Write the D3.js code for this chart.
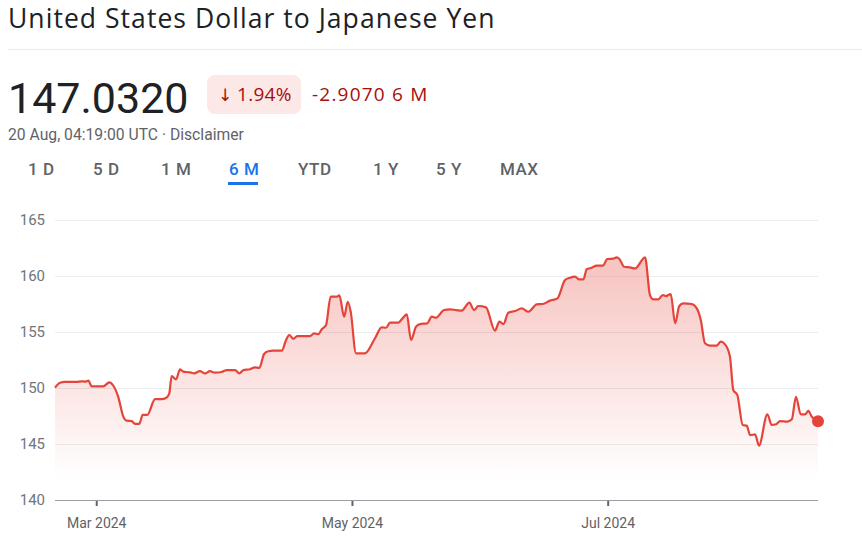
<!DOCTYPE html>
<html>
<head>
<meta charset="utf-8">
<script src="https://cdn.jsdelivr.net/npm/d3@7"></script>
<style>
  body { margin: 0; background: #fff; }
  svg { display: block; font-family: Roboto, "Noto Sans", sans-serif; }
</style>
</head>
<body>
<div id="chart"></div>
<script>
// USD/JPY, 6 month view
var dates = [
  "2024-02-20 04:00", "2024-02-21 09:00", "2024-02-22 13:00", "2024-02-25 08:00", "2024-02-26 13:00",
  "2024-02-27 08:00", "2024-02-28 03:00", "2024-02-28 22:00", "2024-03-02 16:00", "2024-03-04 03:00",
  "2024-03-05 02:00", "2024-03-06 06:00", "2024-03-07 11:00", "2024-03-08 06:00", "2024-03-09 11:00",
  "2024-03-10 06:00", "2024-03-11 07:00", "2024-03-12 02:00", "2024-03-13 04:00", "2024-03-15 01:00",
  "2024-03-16 15:00", "2024-03-17 15:00", "2024-03-18 10:00", "2024-03-19 00:00", "2024-03-20 01:00",
  "2024-03-21 00:00", "2024-03-21 18:00", "2024-03-23 09:00", "2024-03-24 08:00", "2024-03-25 18:00",
  "2024-03-26 23:00", "2024-03-28 03:00", "2024-03-29 08:00", "2024-03-30 22:00", "2024-04-01 03:00",
  "2024-04-03 03:00", "2024-04-04 03:00", "2024-04-05 02:00", "2024-04-06 16:00", "2024-04-07 21:00",
  "2024-04-08 22:00", "2024-04-10 01:00", "2024-04-11 01:00", "2024-04-12 06:00", "2024-04-14 06:00",
  "2024-04-15 07:00", "2024-04-16 01:00", "2024-04-17 00:00", "2024-04-17 23:00", "2024-04-21 00:00",
  "2024-04-21 23:00", "2024-04-22 23:00", "2024-04-23 19:00", "2024-04-24 20:00", "2024-04-25 22:00",
  "2024-04-27 09:00", "2024-04-28 00:00", "2024-04-29 03:00", "2024-04-30 00:00", "2024-04-30 17:00",
  "2024-05-01 23:00", "2024-05-04 03:00", "2024-05-06 12:00", "2024-05-08 02:00", "2024-05-09 03:00",
  "2024-05-10 02:00", "2024-05-12 01:00", "2024-05-12 21:00", "2024-05-14 02:00", "2024-05-15 02:00",
  "2024-05-16 07:00", "2024-05-17 06:00", "2024-05-18 23:00", "2024-05-20 01:00", "2024-05-21 01:00",
  "2024-05-22 23:00", "2024-05-24 09:00", "2024-05-25 20:00", "2024-05-27 04:00", "2024-05-29 00:00",
  "2024-05-30 03:00", "2024-05-31 03:00", "2024-06-01 23:00", "2024-06-04 03:00", "2024-06-05 04:00",
  "2024-06-06 03:00", "2024-06-07 07:00", "2024-06-08 22:00", "2024-06-10 12:00", "2024-06-12 02:00",
  "2024-06-14 02:00", "2024-06-15 12:00", "2024-06-17 06:00", "2024-06-19 00:00", "2024-06-20 20:00",
  "2024-06-22 00:00", "2024-06-23 05:00", "2024-06-24 04:00", "2024-06-25 05:00", "2024-06-26 00:00",
  "2024-06-27 05:00", "2024-06-28 09:00", "2024-06-29 20:00", "2024-06-30 22:00", "2024-07-02 08:00",
  "2024-07-03 04:00", "2024-07-03 19:00", "2024-07-04 22:00", "2024-07-06 08:00", "2024-07-07 13:00",
  "2024-07-09 22:00", "2024-07-11 02:00", "2024-07-11 21:00", "2024-07-13 02:00", "2024-07-14 03:00",
  "2024-07-14 22:00", "2024-07-16 01:00", "2024-07-17 02:00", "2024-07-18 02:00", "2024-07-19 01:00",
  "2024-07-21 01:00", "2024-07-22 06:00", "2024-07-23 05:00", "2024-07-24 05:00", "2024-07-25 10:00",
  "2024-07-27 00:00", "2024-07-27 23:00", "2024-07-29 00:00", "2024-07-30 04:00", "2024-07-30 23:00",
  "2024-07-31 22:00", "2024-08-02 05:00", "2024-08-03 04:00", "2024-08-03 23:00", "2024-08-05 04:00",
  "2024-08-06 02:00", "2024-08-08 02:00", "2024-08-09 03:00", "2024-08-10 04:00", "2024-08-11 03:00",
  "2024-08-12 20:00", "2024-08-13 22:00", "2024-08-14 22:00", "2024-08-16 01:00", "2024-08-17 02:00",
  "2024-08-17 21:00", "2024-08-18 16:00", "2024-08-20 04:00"
];
var rates = [
  150.03, 150.47, 150.54, 150.54, 150.60, 150.57, 150.65, 150.15, 150.15, 150.50,
  150.20, 149.20, 147.44, 147.08, 147.05, 146.80, 146.80, 147.60, 147.60, 149.00,
  149.00, 149.10, 149.50, 151.07, 150.77, 151.67, 151.46, 151.40, 151.30, 151.50,
  151.30, 151.50, 151.37, 151.43, 151.60, 151.60, 151.30, 151.60, 151.67, 151.85,
  151.80, 153.04, 153.28, 153.33, 153.33, 154.29, 154.73, 154.38, 154.64, 154.64,
  154.88, 154.80, 155.24, 155.63, 158.15, 158.15, 158.27, 156.37, 157.70, 156.80,
  153.10, 153.10, 154.44, 155.42, 155.38, 155.83, 155.83, 156.13, 156.58, 154.29,
  155.48, 155.71, 155.77, 156.37, 156.28, 156.96, 157.02, 156.96, 156.90, 157.62,
  156.96, 157.32, 157.20, 155.12, 155.92, 155.71, 156.72, 156.87, 157.11, 156.81,
  157.47, 157.50, 157.80, 158.00, 159.64, 159.85, 159.94, 159.70, 159.70, 160.60,
  160.74, 160.92, 160.92, 161.52, 161.55, 161.67, 161.52, 160.83, 160.77, 160.68,
  161.67, 158.30, 157.92, 157.92, 158.30, 158.21, 158.39, 155.77, 157.32, 157.56,
  157.50, 157.11, 156.07, 153.99, 153.78, 153.78, 154.14, 153.90, 152.80, 149.82,
  149.38, 146.70, 146.64, 145.80, 145.86, 144.85, 147.65, 146.70, 146.76, 147.05,
  146.99, 147.20, 149.22, 147.65, 147.65, 147.95, 147.44, 147.03
];
var yTicks = [140, 145, 150, 155, 160, 165];
var xTicks = ["2024-03-01", "2024-05-01", "2024-07-01"];
var tabs = ["1 D", "5 D", "1 M", "6 M", "YTD", "1 Y", "5 Y", "MAX"];
var tabX = [28, 93, 161, 229, 298, 373, 436, 500];
var activeTab = "6 M";

var width = 862, height = 550;
var red = "#e5443a";
var headFont = "'Open Sans', Roboto, sans-serif";

var svg = d3.select("#chart").append("svg")
    .attr("width", width)
    .attr("height", height);

// Header
svg.append("text")
    .attr("x", 8).attr("y", 28)
    .attr("font-size", 26.5)
    .attr("font-family", headFont)
    .attr("letter-spacing", 1.05)
    .attr("fill", "#202124")
    .text("United States Dollar to Japanese Yen");

svg.append("line")
    .attr("x1", 8).attr("x2", width)
    .attr("y1", 49.5).attr("y2", 49.5)
    .attr("stroke", "#e8eaed");

svg.append("text")
    .attr("x", 8).attr("y", 113)
    .attr("font-size", 43)
    .attr("fill", "#202124")
    .text("147.0320");

svg.append("rect")
    .attr("x", 207).attr("y", 75)
    .attr("width", 94).attr("height", 39)
    .attr("rx", 8)
    .attr("fill", "#fce8e6");

svg.append("text")
    .attr("x", 218).attr("y", 101)
    .attr("font-size", 17)
    .attr("font-family", "'DejaVu Sans', sans-serif")
    .attr("fill", "#a50e0e")
    .text("\u2193");

svg.append("text")
    .attr("x", 237).attr("y", 101)
    .attr("font-size", 19)
    .attr("font-family", headFont)
    .attr("letter-spacing", 0.3)
    .attr("fill", "#a50e0e")
    .text("1.94%");

svg.append("text")
    .attr("x", 312).attr("y", 101)
    .attr("font-size", 19)
    .attr("font-family", headFont)
    .attr("letter-spacing", 1.2)
    .attr("fill", "#a50e0e")
    .text("-2.9070 6 M");

svg.append("text")
    .attr("x", 8).attr("y", 140)
    .attr("font-size", 15.7)
    .attr("fill", "#5f6368")
    .text("20 Aug, 04:19:00 UTC \u00b7 Disclaimer");

// Range tabs
svg.selectAll(".tab")
    .data(tabs)
    .enter().append("text")
    .attr("class", "tab")
    .attr("x", function (d, i) { return tabX[i]; })
    .attr("y", 175)
    .attr("font-size", 17)
    .attr("font-weight", 500)
    .attr("letter-spacing", 0.5)
    .attr("fill", function (d) { return d === activeTab ? "#1a73e8" : "#5f6368"; })
    .text(function (d) { return d; });

svg.append("rect")
    .attr("x", tabX[tabs.indexOf(activeTab)] - 1).attr("y", 182)
    .attr("width", 30).attr("height", 3)
    .attr("fill", "#1a73e8");

// Chart
var parseTime = d3.timeParse("%Y-%m-%d %H:%M");
var parseDay = d3.timeParse("%Y-%m-%d");
var points = dates.map(function (d, i) { return { date: parseTime(d), value: rates[i] }; });

var x = d3.scaleTime()
    .domain(d3.extent(points, function (d) { return d.date; }))
    .range([55, 818]);

var y = d3.scaleLinear()
    .domain([140, 165])
    .range([500, 220]);

// gridlines
svg.append("g")
    .selectAll("line")
    .data(yTicks.slice(1))
    .enter().append("line")
    .attr("x1", 55).attr("x2", 818)
    .attr("y1", function (d) { return y(d) + 0.5; })
    .attr("y2", function (d) { return y(d) + 0.5; })
    .attr("stroke", "#ebedef");

// y labels
svg.append("g")
    .selectAll("text")
    .data(yTicks)
    .enter().append("text")
    .attr("x", 45)
    .attr("y", function (d) { return y(d); })
    .attr("dy", "0.35em")
    .attr("text-anchor", "end")
    .attr("font-size", 15)
    .attr("fill", "#70757a")
    .text(function (d) { return d; });

// gradient under the line
var defs = svg.append("defs");
var grad = defs.append("linearGradient")
    .attr("id", "fillGrad")
    .attr("gradientUnits", "userSpaceOnUse")
    .attr("x1", 0).attr("x2", 0)
    .attr("y1", y(d3.max(rates))).attr("y2", 480);
grad.append("stop").attr("offset", 0).attr("stop-color", red).attr("stop-opacity", 0.32);
grad.append("stop").attr("offset", 1).attr("stop-color", red).attr("stop-opacity", 0);

var area = d3.area()
    .x(function (d) { return x(d.date); })
    .y0(y(140))
    .y1(function (d) { return y(d.value); })
    .curve(d3.curveMonotoneX);

var line = d3.line()
    .x(function (d) { return x(d.date); })
    .y(function (d) { return y(d.value); })
    .curve(d3.curveMonotoneX);

svg.append("path")
    .datum(points)
    .attr("d", area)
    .attr("fill", "url(#fillGrad)");

// x axis
var xAxis = d3.axisBottom(x)
    .tickValues(xTicks.map(function (d) { return parseDay(d); }))
    .tickFormat(d3.timeFormat("%b %Y"))
    .tickSize(6)
    .tickPadding(12);

var gx = svg.append("g")
    .attr("transform", "translate(0,500)")
    .call(xAxis);
gx.select(".domain").remove();
gx.append("line")
    .attr("x1", 55).attr("x2", 818)
    .attr("y1", 0.5).attr("y2", 0.5)
    .attr("stroke", "#9aa0a6");
gx.selectAll(".tick line")
    .attr("stroke", "#5f6368")
    .attr("stroke-width", 2);
gx.selectAll(".tick text")
    .attr("font-size", 14)
    .attr("font-family", "Roboto, sans-serif")
    .attr("fill", "#5f6368");

svg.append("path")
    .datum(points)
    .attr("d", line)
    .attr("fill", "none")
    .attr("stroke", red)
    .attr("stroke-width", 2.2)
    .attr("stroke-linejoin", "round");

var last = points[points.length - 1];
svg.append("circle")
    .attr("cx", x(last.date))
    .attr("cy", y(last.value))
    .attr("r", 6)
    .attr("fill", red);
</script>
</body>
</html>
